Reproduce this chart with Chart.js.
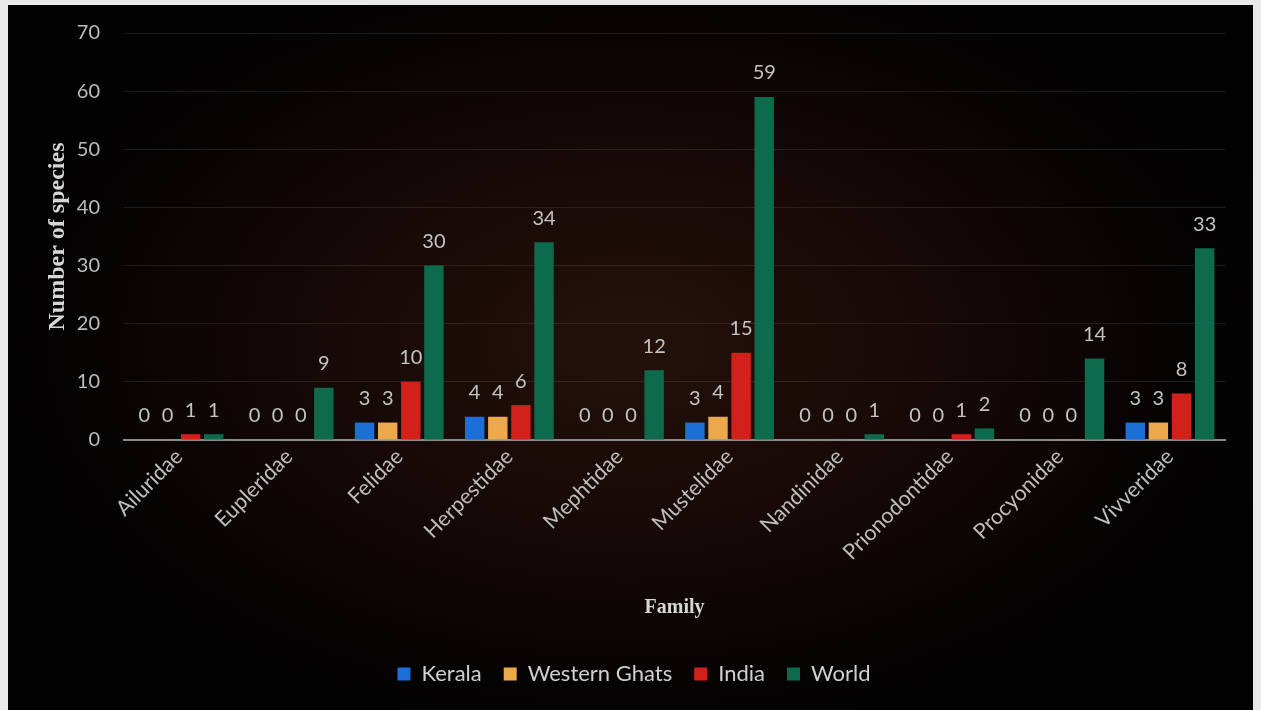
<!DOCTYPE html>
<html>
<head>
<meta charset="utf-8">
<script src="https://cdn.jsdelivr.net/npm/chart.js@4"></script>
<style>
  html, body { margin: 0; padding: 0; }
  body { width: 1261px; height: 710px; background: #e9e9e9; position: relative; overflow: hidden; }
  #frame { position: absolute; left: 8px; top: 5px; width: 1245px; height: 705px;
    background: radial-gradient(ellipse 55% 60% at 50% 48%, #24110b 0%, #160907 45%, #060303 80%, #020202 100%); }
  canvas { display: block; }
</style>
</head>
<body>
<div id="frame"><canvas id="c" width="1245" height="705"></canvas></div>
<script>
const categories = ["Ailuridae", "Eupleridae", "Felidae", "Herpestidae", "Mephtidae", "Mustelidae", "Nandinidae", "Prionodontidae", "Procyonidae", "Vivveridae"];
const kerala = [0, 0, 3, 4, 0, 3, 0, 0, 0, 3];
const westernGhats = [0, 0, 3, 4, 0, 4, 0, 0, 0, 3];
const india = [1, 0, 10, 6, 0, 15, 0, 1, 0, 8];
const world = [1, 9, 30, 34, 12, 59, 1, 2, 14, 33];
const yTicks = [0, 10, 20, 30, 40, 50, 60, 70];

const SANS = "Lato, 'Open Sans', sans-serif";
const SERIF = "'Liberation Serif', 'DejaVu Serif', serif";

const valueLabels = {
  id: 'valueLabels',
  afterDatasetsDraw(chart) {
    const ctx = chart.ctx;
    ctx.save();
    ctx.font = "20px " + SANS;
    ctx.fillStyle = "#c4c4c4";
    ctx.textAlign = "center";
    ctx.textBaseline = "middle";
    chart.data.datasets.forEach((ds, i) => {
      const meta = chart.getDatasetMeta(i);
      meta.data.forEach((bar, j) => {
        ctx.fillText(String(ds.data[j]), bar.x, bar.y - 24);
      });
    });
    ctx.restore();
  }
};

new Chart(document.getElementById('c'), {
  type: 'bar',
  data: {
    labels: categories,
    datasets: [
      { label: 'Kerala', data: kerala, backgroundColor: '#1b6fd6' },
      { label: 'Western Ghats', data: westernGhats, backgroundColor: '#eba94c' },
      { label: 'India', data: india, backgroundColor: '#d2201a' },
      { label: 'World', data: world, backgroundColor: '#0d6a4d' }
    ]
  },
  options: {
    responsive: false,
    animation: false,
    events: [],
    layout: { padding: { left: 35, right: 28, top: 28, bottom: 15 } },
    datasets: { bar: { categoryPercentage: 0.84, barPercentage: 0.84 } },
    scales: {
      x: {
        grid: { display: false, drawTicks: false },
        border: { display: true, color: '#8c8c8c', width: 2 },
        ticks: { color: '#bdbdbd', font: { family: SANS, size: 21.5 }, maxRotation: 45, minRotation: 45, padding: 4 },
        title: { display: true, text: 'Family', color: '#d6d6d6', font: { family: SERIF, size: 20, weight: 'bold' }, padding: { top: 0, bottom: 21 } },
        afterFit(s) { s.height = 201; }
      },
      y: {
        min: 0, max: 70,
        afterBuildTicks(s) { s.ticks = yTicks.map(v => ({ value: v })); },
        grid: { color: 'rgba(90,80,75,0.32)', drawTicks: true, tickLength: 21, tickColor: 'rgba(0,0,0,0)' },
        border: { display: false },
        ticks: { color: '#bdbdbd', font: { family: SANS, size: 20 }, padding: 3 },
        title: { display: true, text: 'Number of species', color: '#d6d6d6', font: { family: SERIF, size: 24, weight: 'bold' }, padding: { top: 0, bottom: 4 } },
        afterFit(s) { s.width = 81; }
      }
    },
    plugins: {
      legend: {
        position: 'bottom',
        labels: { color: '#d0d0d0', font: { family: SANS, size: 22 }, boxWidth: 13, boxHeight: 13, padding: 22 }
      },
      tooltip: { enabled: false }
    }
  },
  plugins: [valueLabels]
});
</script>
</body>
</html>
